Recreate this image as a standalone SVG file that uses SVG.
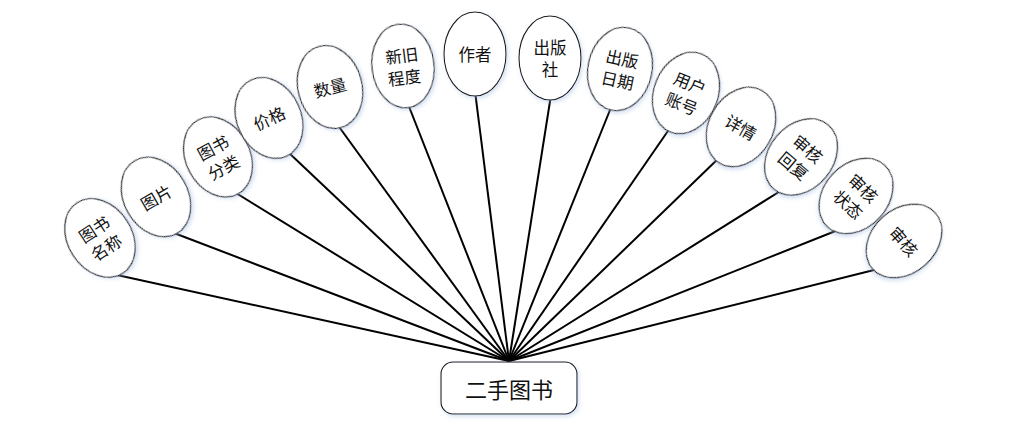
<svg xmlns="http://www.w3.org/2000/svg" width="1030" height="436" viewBox="0 0 1030 436">
<style>
.n ellipse{fill:#fff;stroke:#1a1a1a;stroke-width:1.1;filter:url(#sh)}
.n text,.hub text{font-family:"Noto Sans CJK SC","Noto Sans",sans-serif;fill:#111;text-anchor:middle;dominant-baseline:central}
.n text{font-size:16.5px}
.edges line{stroke:#000;stroke-width:2}
.hub rect{fill:#fff;stroke:#1a1a1a;stroke-width:1.1;filter:url(#sh)}
</style>
<defs>
<filter id="sh" x="-20%" y="-20%" width="140%" height="140%">
<feDropShadow dx="1.5" dy="2" stdDeviation="2" flood-color="#9db7e0" flood-opacity="0.45"/>
</filter>
</defs>
<g class="edges">
<line x1="509" y1="361" x2="117" y2="275"/>
<line x1="509" y1="361" x2="174" y2="233"/>
<line x1="509" y1="361" x2="236" y2="193"/>
<line x1="509" y1="361" x2="288" y2="152"/>
<line x1="509" y1="361" x2="337" y2="124"/>
<line x1="509" y1="361" x2="408" y2="104"/>
<line x1="509" y1="361" x2="475" y2="91"/>
<line x1="509" y1="361" x2="551" y2="95"/>
<line x1="509" y1="361" x2="612" y2="105"/>
<line x1="509" y1="361" x2="670" y2="128"/>
<line x1="509" y1="361" x2="722" y2="155"/>
<line x1="509" y1="361" x2="782" y2="190"/>
<line x1="509" y1="361" x2="838" y2="230"/>
<line x1="509" y1="361" x2="878" y2="269"/>
</g>
<g id="n1" class="n" transform="translate(100,238) rotate(-33)"><ellipse rx="32" ry="42"/><text y="-11">图书</text><text y="11">名称</text></g>
<g id="n2" class="n" transform="translate(156,197) rotate(-30)"><ellipse rx="32" ry="42"/><text>图片</text></g>
<g id="n3" class="n" transform="translate(218,157) rotate(-28)"><ellipse rx="32" ry="42"/><text y="-11">图书</text><text y="11">分类</text></g>
<g id="n4" class="n" transform="translate(269,118) rotate(-25)"><ellipse rx="32" ry="42"/><text>价格</text></g>
<g id="n5" class="n" transform="translate(330,87) rotate(-15)"><ellipse rx="32" ry="42"/><text>数量</text></g>
<g id="n6" class="n" transform="translate(403,66) rotate(-7)"><ellipse rx="31" ry="42"/><text y="-11">新旧</text><text y="11">程度</text></g>
<g id="n7" class="n" transform="translate(475,54)"><ellipse rx="31" ry="42"/><text>作者</text></g>
<g id="n8" class="n" transform="translate(550,58)"><ellipse rx="31" ry="42"/><text y="-11">出版</text><text y="11">社</text></g>
<g id="n9" class="n" transform="translate(620,69) rotate(12)"><ellipse rx="32" ry="42"/><text y="-11">出版</text><text y="11">日期</text></g>
<g id="n10" class="n" transform="translate(686,93) rotate(22)"><ellipse rx="32" ry="42"/><text y="-11">用户</text><text y="11">账号</text></g>
<g id="n11" class="n" transform="translate(741,127) rotate(30)"><ellipse rx="32" ry="42"/><text>详情</text></g>
<g id="n12" class="n" transform="translate(801,157) rotate(40)"><ellipse rx="32" ry="42"/><text y="-11">审核</text><text y="11">回复</text></g>
<g id="n13" class="n" transform="translate(856,196) rotate(43)"><ellipse rx="32" ry="42"/><text y="-11">审核</text><text y="11">状态</text></g>
<g id="n14" class="n" transform="translate(904,241) rotate(48)"><ellipse rx="32" ry="42"/><text>审核</text></g>
<g id="hub" class="hub"><rect x="441" y="362" width="136" height="52" rx="12"/><text x="509" y="388" font-size="22">二手图书</text></g>
</svg>
